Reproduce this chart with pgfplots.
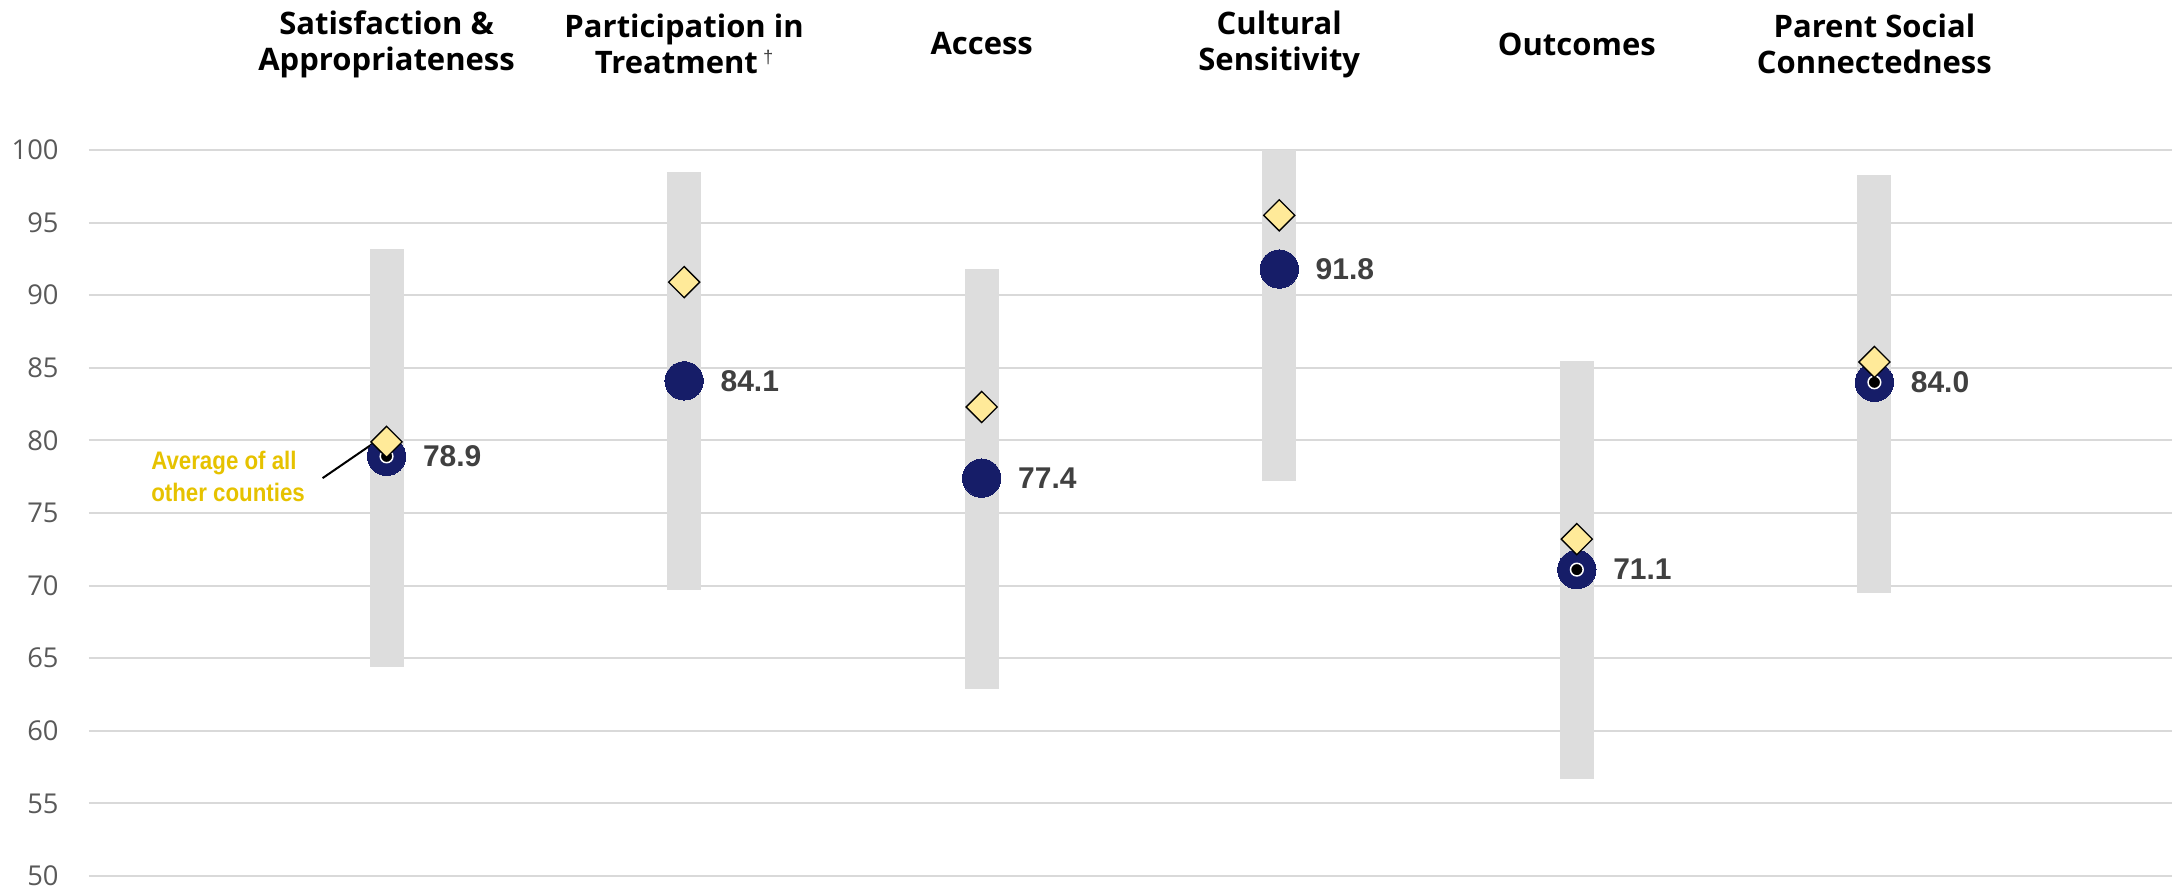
\documentclass[border=0pt]{standalone}
\usepackage{pgfplots}
\pgfplotsset{compat=1.18}
\usepackage{pgfplotstable}
\usepackage{fontspec}
\setmainfont{Liberation Sans}
\newfontfamily\titlefont{Open Sans}
\newfontfamily\tickfont{Open Sans}
\newfontfamily\annfont[FakeStretch=0.88]{Liberation Sans}

\definecolor{navy}{RGB}{22,29,104}
\definecolor{rangegray}{RGB}{221,221,221}
\definecolor{gridgray}{RGB}{217,217,217}
\definecolor{diamondfill}{RGB}{255,234,153}
\definecolor{labelgray}{RGB}{64,64,64}
\definecolor{tickgray}{RGB}{89,89,89}
\definecolor{gold}{RGB}{230,194,0}

% range of all counties (low / high)
\pgfplotstableread{
x lo hi
0 64.4 93.2
1 69.7 98.5
2 62.9 91.8
3 77.2 100.0
4 56.7 85.5
5 69.5 98.3
}\ranges

% this county
\pgfplotstableread{
x score
0 78.9
1 84.1
2 77.4
3 91.8
4 71.1
5 84.0
}\county

% small black dots
\pgfplotstableread{
x score
0 78.9
4 71.1
5 84.0
}\dotpts

% average of all other counties
\pgfplotstableread{
x avg
0 79.9
1 90.9
2 82.3
3 95.5
4 73.2
5 85.4
}\others

\begin{document}
\begin{tikzpicture}
\path[use as bounding box] (-26.7pt,-4.2pt) rectangle (624.9pt,262.8pt);
\begin{axis}[
  at={(0,0)}, anchor=south west,
  scale only axis,
  width=624.9pt, height=217.8pt,
  xmin=-1, xmax=6,
  ymin=50, ymax=100,
  ytick={50,55,...,100},
  xtick=\empty,
  axis line style={draw=none},
  major tick length=0pt,
  ymajorgrids,
  grid style={gridgray, line width=0.55pt},
  /pgf/number format/assume math mode=true,
  yticklabel style={font=\tickfont\fontsize{8.2}{9}\selectfont, text=tickgray, xshift=-5.6pt},
  clip=false,
]

% gray ranges
\addplot[draw=none, mark=none,
  error bars/.cd, y dir=plus, y explicit, error mark=none,
  error bar style={draw=rangegray, line width=10.2pt}]
  table[x=x, y=lo, y error plus expr=\thisrow{hi}-\thisrow{lo}] {\ranges};

% county score
\addplot[only marks, mark=*, mark size=5.75pt,
  mark options={fill=navy, draw=navy, line width=0pt},
  point meta=y,
  nodes near coords={\pgfmathprintnumber[fixed, fixed zerofill, precision=1]{\pgfplotspointmeta}},
  nodes near coords align=horizontal,
  every node near coord/.append style={anchor=west, xshift=7.6pt,
    font=\bfseries\fontsize{9}{10}\selectfont, text=labelgray}]
  table[x=x, y=score] {\county};

\addplot[only marks, mark=*, mark size=1.9pt,
  mark options={fill=black, draw=white, line width=0.45pt}]
  table[x=x, y=score] {\dotpts};

% average of other counties
\addplot[only marks, mark=square*, mark size=3.3pt,
  mark options={fill=diamondfill, draw=black, line width=0.4pt, rotate=45}]
  table[x=x, y=avg] {\others};

% category titles
\tikzset{cat/.style={align=center, yshift=31.8pt, inner sep=0pt,
  font=\titlefont\bfseries\fontsize{9.3}{10.8}\selectfont}}
\node[cat] at (axis cs:0,100) {Satisfaction \&\\Appropriateness};
\node[cat] at (axis cs:1,100) {Participation in\\Treatment\,\raisebox{3pt}{\normalfont\fontsize{5.5}{5}\selectfont\color{labelgray}†}};
\node[cat] at (axis cs:2,100) {Access};
\node[cat] at (axis cs:3,100) {Cultural\\Sensitivity};
\node[cat] at (axis cs:4,100) {Outcomes};
\node[cat] at (axis cs:5,100) {Parent Social\\Connectedness};

% annotation
\node[anchor=west, align=left, inner sep=0pt, text=gold,
  font=\annfont\bfseries\fontsize{7.6}{9.5}\selectfont]
  at (axis cs:-0.793,77.5) {Average of all\\other counties};
\draw[black, line width=0.6pt] (axis cs:-0.215,77.4) -- (axis cs:-0.03,80.0);
\end{axis}
\end{tikzpicture}
\end{document}
